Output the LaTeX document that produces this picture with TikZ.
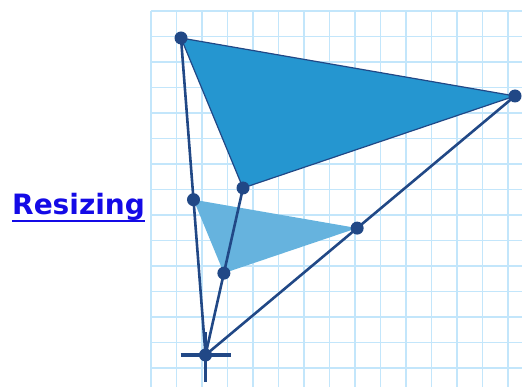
\documentclass[tikz,border=0pt]{standalone}
\usepackage{fontspec}
\setmainfont{DejaVu Sans}
\usepackage{xcolor}
\usetikzlibrary{calc}
\definecolor{gridblue}{RGB}{195,230,251}
\definecolor{navy}{RGB}{33,72,134}
\definecolor{bigfill}{RGB}{37,150,208}
\definecolor{smallfill}{RGB}{102,179,222}
\definecolor{linkblue}{RGB}{20,10,230}

\begin{document}
\begin{tikzpicture}[x=1pt,y=-1pt,
  ray/.style={navy,line width=2.6pt},
  dot/.style={circle,fill=navy,inner sep=0pt,minimum size=13pt},
  cross/.style={navy,line width=3.2pt}]
\useasboundingbox (0,0) rectangle (522,387);
% grid paper
\foreach \k in {0,...,14} {
  \draw[gridblue,line width=1.4pt] (151+25.5*\k,11) -- (151+25.5*\k,387);
  \draw[gridblue,line width=1.4pt] (151,11+25.5*\k) -- (522,11+25.5*\k);
}
% centre and corners
\coordinate (O) at (205.5,355);
\coordinate (A) at (181,38);
\coordinate (B) at (515,96);
\coordinate (C) at (243,188);
\coordinate (D) at ($(O)!0.49!(A)$);
\coordinate (E) at ($(O)!0.49!(B)$);
\coordinate (F) at ($(O)!0.49!(C)$);
% triangles
\fill[smallfill] (D) -- (E) -- (F) -- cycle;
\draw[navy,line width=1.2pt,fill=bigfill] (A) -- (B) -- (C) -- cycle;
% rays
\draw[ray] (O) -- (A);
\draw[ray] (O) -- (C);
\draw[ray] (O) -- (B);
% crosshair
\draw[cross] ($(O)+(-25,0)$) -- ($(O)+(25,0)$);
\draw[cross] ($(O)+(0,-23)$) -- ($(O)+(0,27)$);
\node[dot] (o) at (O) {};
\foreach \p in {A,B,C,D,E,F}
  \node[dot] (\p dot) at (\p) {};
% label
\node[anchor=base west,inner sep=0pt,text=linkblue,font=\bfseries\fontsize{28}{32}\selectfont] (lbl) at (12,215) {Resizing};
\draw[linkblue,line width=2pt] ([yshift=-6pt]lbl.base west) -- ([yshift=-6pt]lbl.base east);
\end{tikzpicture}
\end{document}
